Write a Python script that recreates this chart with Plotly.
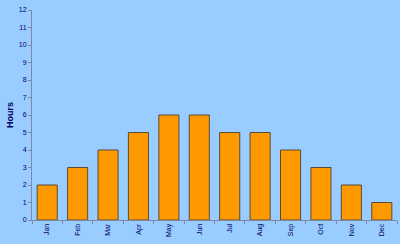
import plotly.graph_objects as go

months = ["Jan", "Feb", "Mar", "Apr", "May", "Jun", "Jul", "Aug", "Sep", "Oct", "Nov", "Dec"]
hours = [2, 3, 4, 5, 6, 6, 5, 5, 4, 3, 2, 1]
y_ticks = list(range(0, 13))

fig = go.Figure(go.Bar(
    x=months, y=hours,
    marker=dict(color="#FF9900", line=dict(color="#5a4a3a", width=1)),
    width=0.66,
))

fig.update_layout(
    width=400, height=244,
    margin=dict(l=32, r=3, t=10, b=24),
    paper_bgcolor="#99CCFF", plot_bgcolor="#99CCFF",
    showlegend=False,
    font=dict(family="Liberation Sans, Arial", color="#000066"),
)
fig.update_xaxes(
    showgrid=False, showline=True, linecolor="#7f86a8", linewidth=1,
    ticks="outside", ticklen=3, tickcolor="#7f86a8", tickson="boundaries",
    tickangle=-90, tickfont=dict(size=7, color="#000066"),
    range=[-0.5, 11.5],
)
fig.update_yaxes(
    range=[0, 12], tickvals=y_ticks, showgrid=False, zeroline=False,
    showline=True, linecolor="#7f86a8", linewidth=1,
    ticks="outside", ticklen=3, tickcolor="#7f86a8",
    tickfont=dict(size=7, color="#000066"),
    title=dict(text="<b>Hours</b>", font=dict(size=9, color="#000066"), standoff=3),
)

fig.write_html("out.html")
